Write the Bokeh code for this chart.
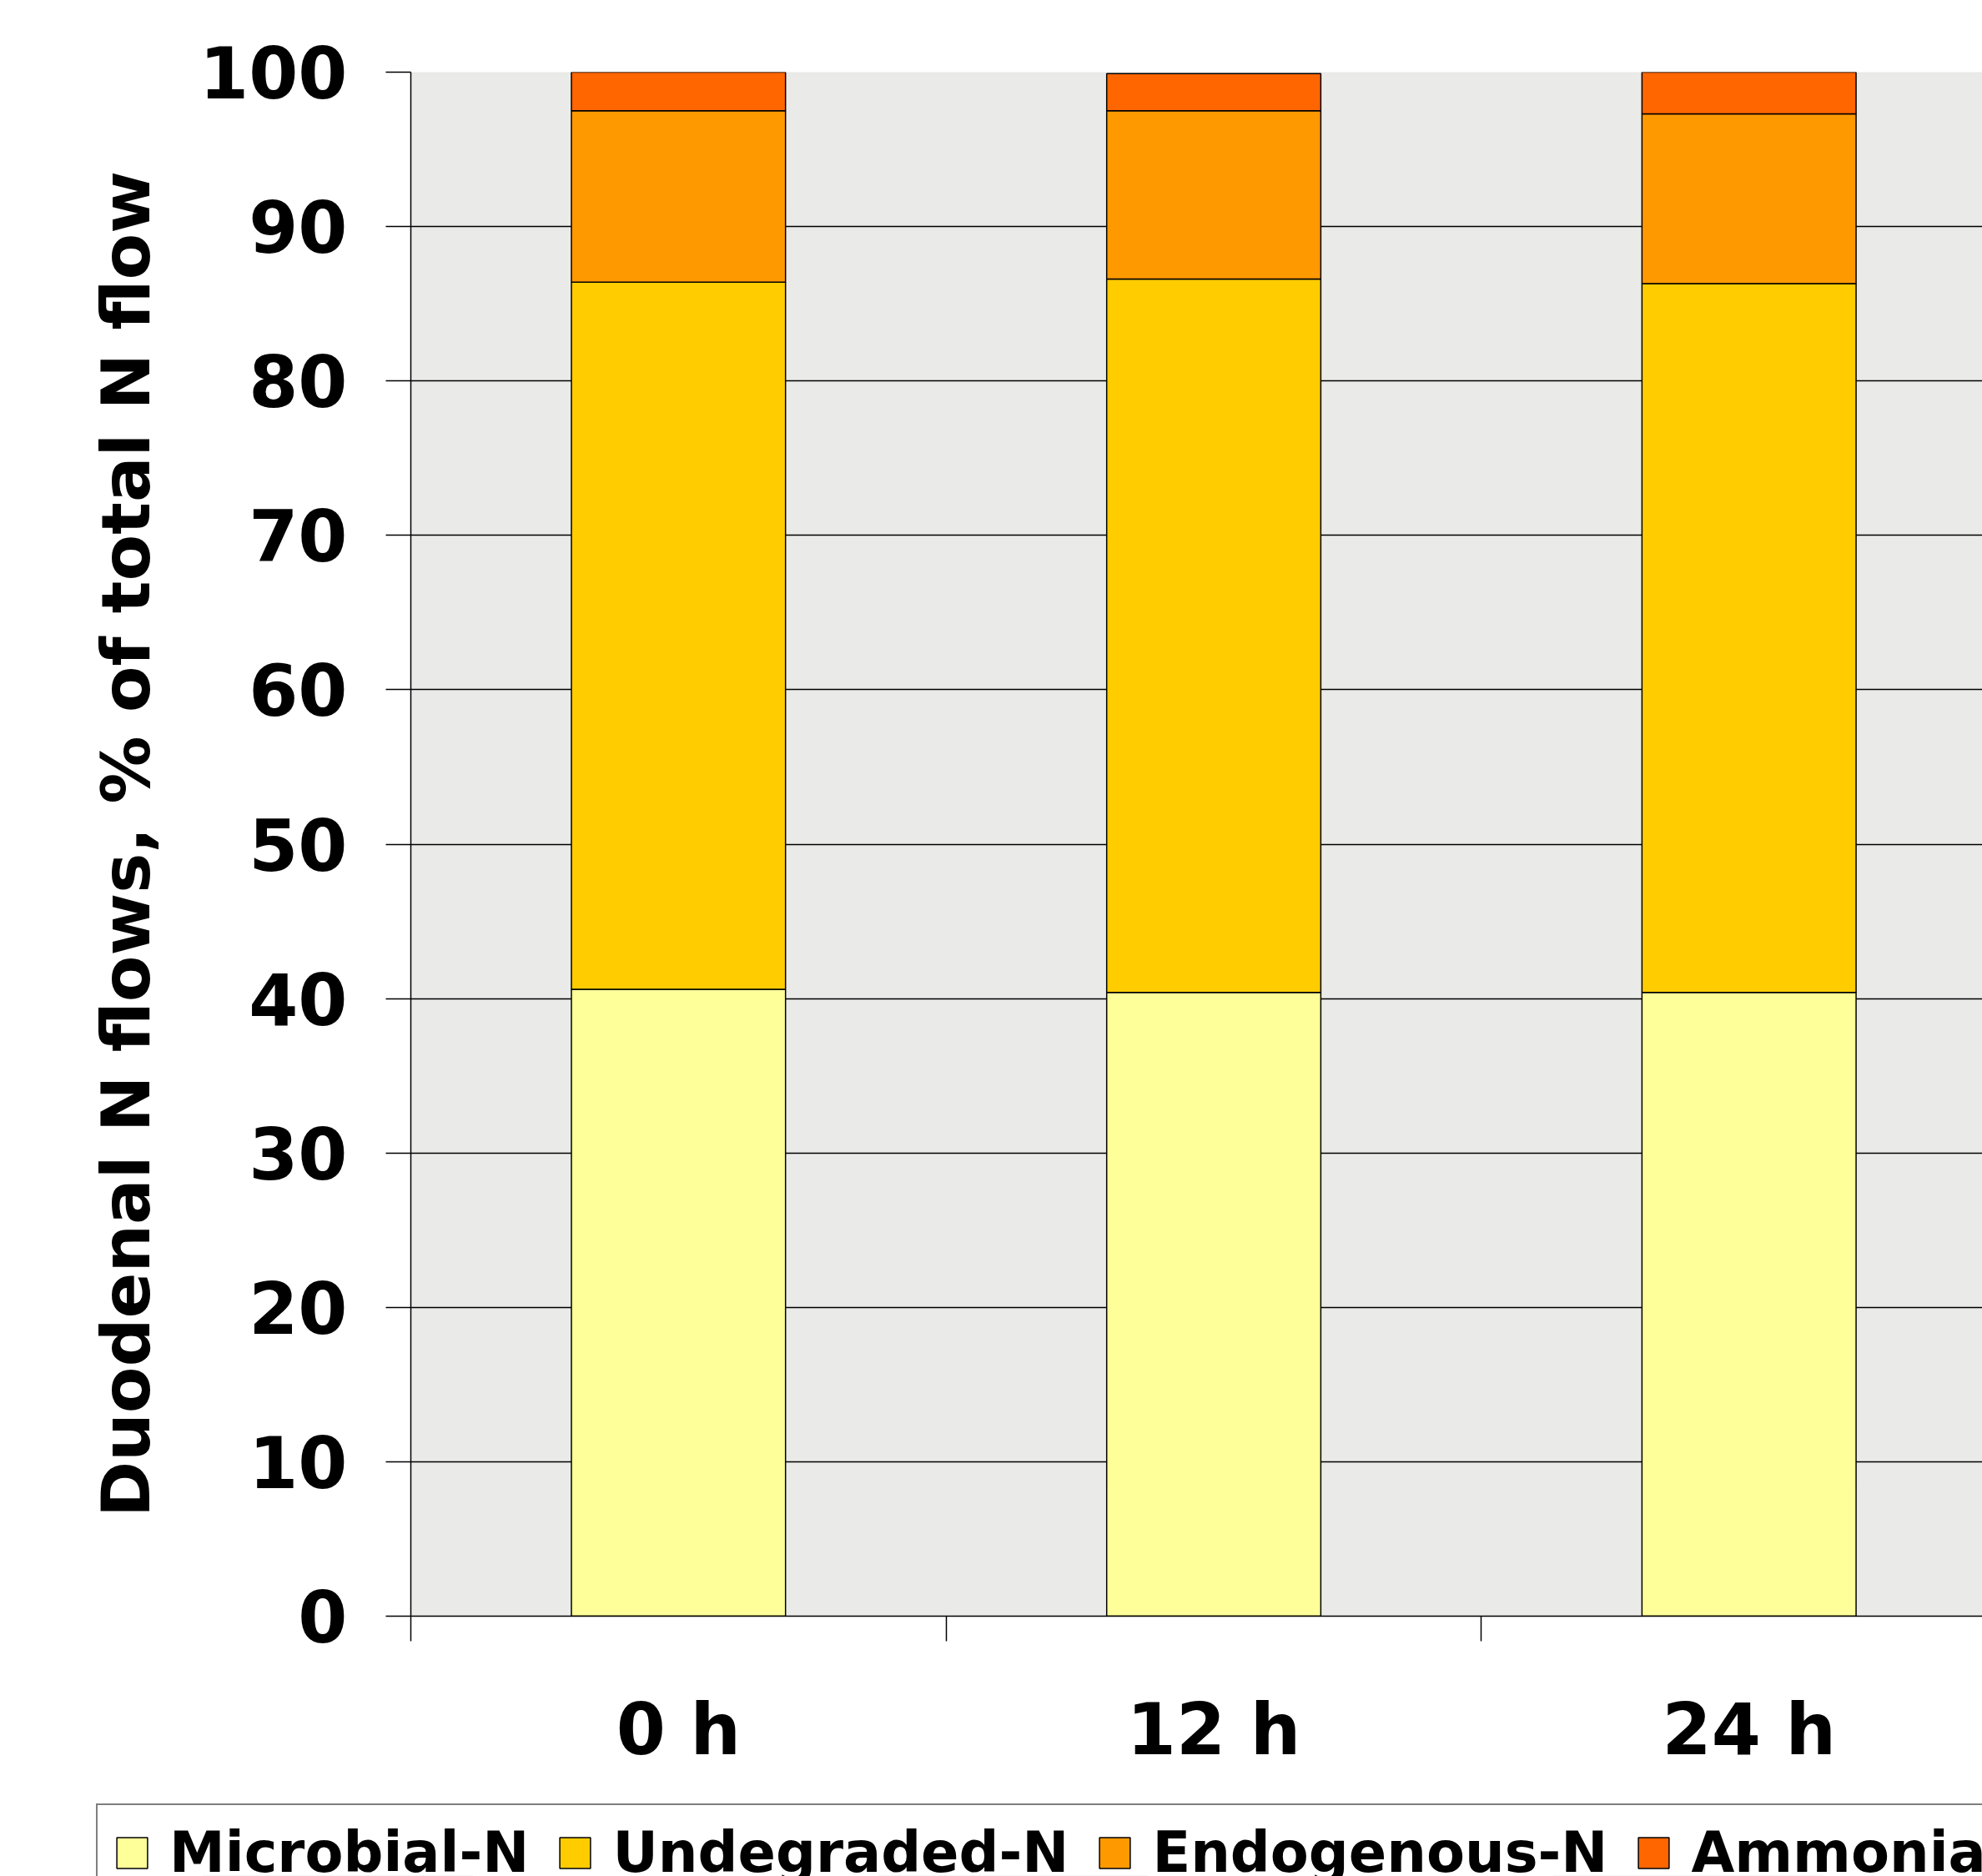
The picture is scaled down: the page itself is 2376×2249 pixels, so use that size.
from bokeh.plotting import figure
from bokeh.models import Legend, LegendItem, FixedTicker, ColumnDataSource, Range1d
from bokeh.embed import file_html
from bokeh.resources import INLINE

categories = ["0 h", "12 h", "24 h"]
microbial = [40.6, 40.4, 40.4]
undegraded = [45.8, 46.2, 45.9]
endogenous = [11.1, 10.9, 11.0]
ammonia = [2.5, 2.4, 2.7]
series_names = ["Microbial-N", "Undegraded-N", "Endogenous-N", "Ammonia-N"]
colors = ["#FFFF99", "#FFCC00", "#FF9900", "#FF6600"]
y_ticks = list(range(0, 101, 10))

keys = ["microbial", "undegraded", "endogenous", "ammonia"]
centers = [i + 0.5 for i in range(len(categories))]
bounds = [float(i) for i in range(len(categories) + 1)]
src = ColumnDataSource(dict(x=centers, microbial=microbial, undegraded=undegraded,
                            endogenous=endogenous, ammonia=ammonia))

FONT = "DejaVu Sans"
W = 2376
H_MAIN = 2160
H_LEG = 2249 - H_MAIN

p = figure(width=W, height=H_MAIN, x_range=Range1d(0, 2.936), y_range=Range1d(0, 100),
           output_backend="svg", toolbar_location=None,
           min_border_left=492, min_border_top=86, min_border_right=0, min_border_bottom=223)

p.background_fill_color = "#EAEAE8"
p.border_fill_color = "white"
p.outline_line_color = None

rs = p.vbar_stack(keys, x="x", width=0.4, source=src, fill_color=colors,
                  line_color="black", line_width=1.5)

p.xgrid.visible = False
p.ygrid.ticker = FixedTicker(ticks=y_ticks)
p.ygrid.grid_line_color = "black"
p.ygrid.grid_line_width = 1.5

ya = p.yaxis[0]
ya.ticker = FixedTicker(ticks=y_ticks)
ya.major_label_text_font = FONT
ya.major_label_text_font_style = "bold"
ya.major_label_text_font_size = "85px"
ya.major_label_text_color = "black"
ya.major_tick_out = 30
ya.major_tick_in = 0
ya.major_tick_line_width = 1.5
ya.minor_tick_line_color = None
ya.axis_line_width = 1.5
ya.major_label_standoff = 46
ya.axis_label = "Duodenal N flows, % of total N flow"
ya.axis_label_text_font = FONT
ya.axis_label_text_font_style = "bold"
ya.axis_label_text_font_size = "81px"
ya.axis_label_text_color = "black"
ya.axis_label_standoff = 38

xa = p.xaxis[0]
xa.ticker = FixedTicker(ticks=centers, minor_ticks=bounds)
xa.major_label_overrides = {c: lab for c, lab in zip(centers, categories)}
xa.major_label_text_font = FONT
xa.major_label_text_font_style = "bold"
xa.major_label_text_font_size = "85px"
xa.major_label_text_color = "black"
xa.major_tick_out = 0
xa.major_tick_in = 0
xa.major_tick_line_color = None
xa.minor_tick_out = 30
xa.minor_tick_in = 0
xa.minor_tick_line_color = "black"
xa.minor_tick_line_width = 1.5
xa.axis_line_width = 1.5
xa.major_label_standoff = 56

# legend strip (same data, bars kept outside its visible y range)
lg = figure(width=W, height=H_LEG, x_range=Range1d(0, 2.936), y_range=Range1d(1000, 1001),
            output_backend="svg", toolbar_location=None,
            x_axis_location=None, y_axis_location=None,
            min_border_left=0, min_border_right=0, min_border_top=0, min_border_bottom=0)
lg.background_fill_color = "white"
lg.border_fill_color = "white"
lg.outline_line_color = None
lg.xgrid.visible = False
lg.ygrid.visible = False
lrs = lg.vbar_stack(keys, x="x", width=0.4, source=src, fill_color=colors,
                    line_color="black", line_width=1.5)

legend = Legend(items=[LegendItem(label=n, renderers=[r]) for n, r in zip(series_names, lrs)],
                orientation="horizontal", location=(115, -31))
legend.label_text_font = FONT
legend.label_text_font_style = "bold"
legend.label_text_font_size = "67px"
legend.label_text_color = "black"
legend.glyph_width = 46
legend.glyph_height = 46
legend.label_standoff = 22
legend.spacing = 32
legend.padding = 18
legend.margin = 0
legend.border_line_color = "black"
legend.border_line_width = 2
legend.background_fill_color = "white"
lg.add_layout(legend, "center")

open("out.html", "w").write(file_html([p, lg], INLINE))
